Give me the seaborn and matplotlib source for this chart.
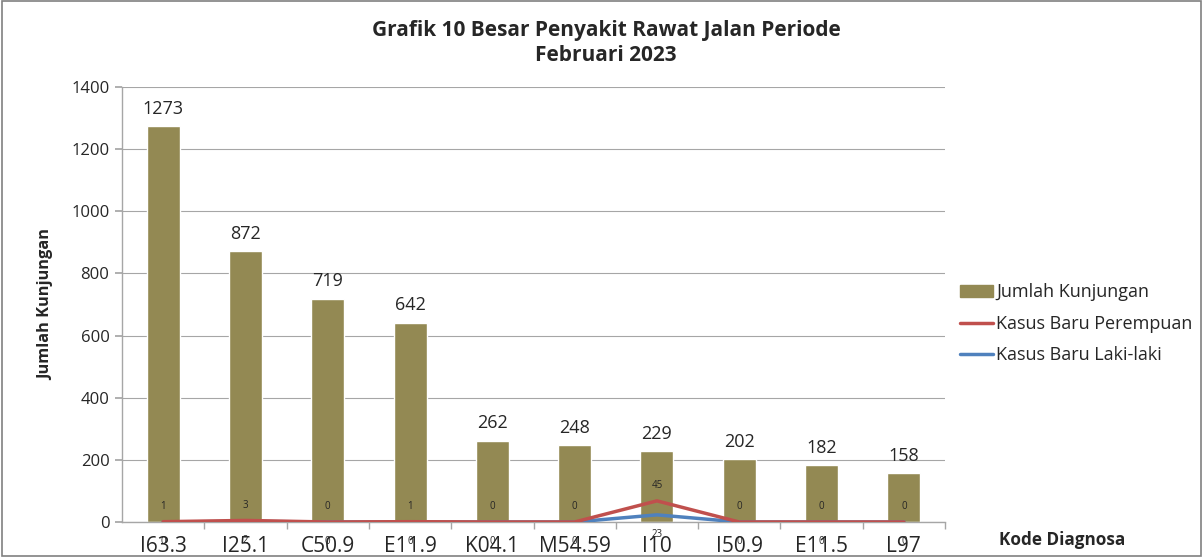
import pandas as pd
import matplotlib
matplotlib.use('Agg')
import matplotlib.pyplot as plt
import seaborn as sns
from matplotlib.patches import Patch, Rectangle
from matplotlib.lines import Line2D

# --- data ---
kode = ['I63.3', 'I25.1', 'C50.9', 'E11.9', 'K04.1', 'M54.59', 'I10', 'I50.9', 'E11.5', 'L97']
kunjungan = [1273, 872, 719, 642, 262, 248, 229, 202, 182, 158]
baru_perempuan = [1, 3, 0, 1, 0, 0, 45, 0, 0, 0]
baru_laki = [0, 2, 0, 0, 0, 0, 23, 0, 0, 0]

df = pd.DataFrame({'kode': kode, 'kunjungan': kunjungan,
                   'perempuan': baru_perempuan, 'laki': baru_laki})
# excel stacked line: perempuan sits on top of laki-laki
df['perempuan_stack'] = df['laki'] + df['perempuan']

BAR = '#938953'
RED = '#C0504D'
BLUE = '#4F81BD'
GRID = '#A6A6A6'

sns.set_theme(style='white')
plt.rcParams['font.family'] = ['Open Sans', 'DejaVu Sans']

fig = plt.figure(figsize=(12.03, 5.57), dpi=100)
ax = fig.add_axes([122 / 1203, 1 - 522 / 557, (945 - 122) / 1203, (522 - 87) / 557])

sns.barplot(data=df, x='kode', y='kunjungan', color=BAR, width=0.4,
            saturation=1, ax=ax, zorder=2)
sns.lineplot(data=df, x='kode', y='perempuan_stack', color=RED, linewidth=2.5,
             ax=ax, zorder=4, sort=False)
sns.lineplot(data=df, x='kode', y='laki', color=BLUE, linewidth=2.5,
             ax=ax, zorder=3, sort=False)

# labels
for i, row in df.iterrows():
    ax.annotate(f"{row['kunjungan']}", (i, row['kunjungan']), xytext=(0, 6),
                textcoords='offset points', ha='center', va='bottom', fontsize=13)
    ax.annotate(f"{row['perempuan']}", (i, row['perempuan_stack']), xytext=(0, 11),
                textcoords='offset points', ha='center', va='center', fontsize=7)
    ax.annotate(f"{row['laki']}", (i, row['laki']), xytext=(0, -14),
                textcoords='offset points', ha='center', va='center', fontsize=7)

ax.set_ylim(0, 1400)
ax.set_xlim(-0.5, len(kode) - 0.5)
ax.set_yticks(range(0, 1401, 200))
ax.yaxis.grid(True, color=GRID, linewidth=0.8)
ax.set_axisbelow(True)
for s in ['top', 'right']:
    ax.spines[s].set_visible(False)
for s in ['left', 'bottom']:
    ax.spines[s].set_color(GRID)
    ax.spines[s].set_linewidth(1)

ax.tick_params(axis='y', left=True, length=5, color=GRID, labelsize=12, pad=4)
ax.tick_params(axis='x', bottom=False, labelsize=15, pad=4)
# x ticks sit between categories in the original
ax.set_xticks([i + 0.5 for i in range(len(kode))], minor=True)
ax.tick_params(axis='x', which='minor', bottom=True, length=5, color=GRID)

ax.set_xlabel('')
ax.set_ylabel('Jumlah Kunjungan', fontsize=11.8, fontweight='bold', labelpad=12)
fig.text(1062 / 1203, 1 - 540 / 557, 'Kode Diagnosa', ha='center', va='center',
         fontsize=12.3, fontweight='bold')

fig.suptitle('Grafik 10 Besar Penyakit Rawat Jalan Periode\nFebruari 2023',
             x=606 / 1203, y=1 - 20 / 557, va='top', fontsize=15, fontweight='bold',
             linespacing=1.25)

handles = [Patch(facecolor=BAR, edgecolor=BAR),
           Line2D([], [], color=RED, linewidth=2.5),
           Line2D([], [], color=BLUE, linewidth=2.5)]
fig.legend(handles, ['Jumlah Kunjungan', 'Kasus Baru Perempuan', 'Kasus Baru Laki-laki'],
           loc='upper left', bbox_to_anchor=(953 / 1203, 1 - 276 / 557), frameon=False,
           fontsize=13, handlelength=1.8, handleheight=0.6, handletextpad=0.2,
           labelspacing=0.75, borderaxespad=0)

fig.patches.append(Rectangle((0.002, 0.002), 0.996, 0.996, transform=fig.transFigure,
                             fill=False, edgecolor='#808080', linewidth=1.2))

fig.savefig('out.png', dpi=100)
